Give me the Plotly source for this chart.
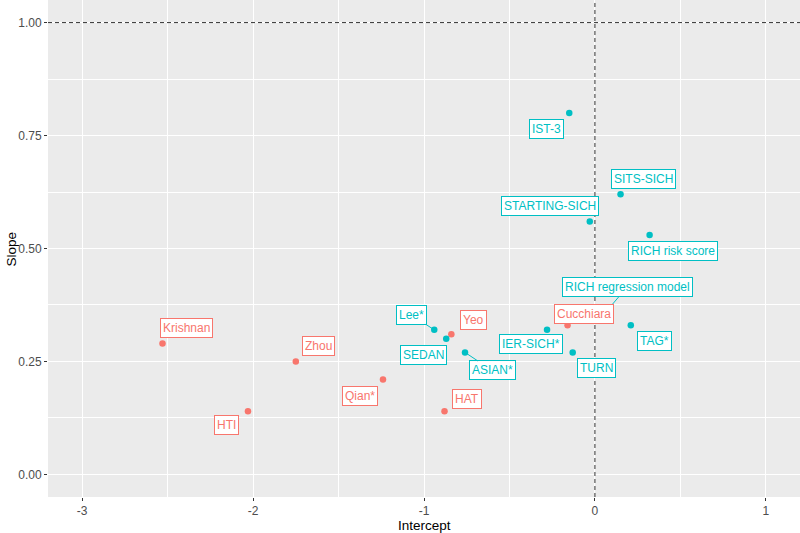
import plotly.graph_objects as go

# calibration of prediction models: intercept vs slope
studies = ["IST-3", "SITS-SICH", "STARTING-SICH", "RICH risk score", "RICH regression model",
           "TAG*", "Lee*", "SEDAN", "ASIAN*", "IER-SICH*", "TURN",
           "Krishnan", "Zhou", "Qian*", "HTI", "HAT", "Yeo", "Cucchiara"]
intercept = [-0.15, 0.15, -0.03, 0.32, 0.02,
             0.21, -0.94, -0.87, -0.76, -0.28, -0.13,
             -2.53, -1.75, -1.24, -2.03, -0.88, -0.84, -0.16]
slope = [0.80, 0.62, 0.56, 0.53, 0.34,
         0.33, 0.32, 0.30, 0.27, 0.32, 0.27,
         0.29, 0.25, 0.21, 0.14, 0.14, 0.31, 0.33]
group = ["b"] * 11 + ["a"] * 7

x_ticks = [-3, -2, -1, 0, 1]
y_ticks = [0.00, 0.25, 0.50, 0.75, 1.00]

colors = {"a": "#F8766D", "b": "#00BFC4"}

# label offsets in pixels (repel-like placement), segment shown for a few
label_offset = {
    "IST-3": (-23, 16), "SITS-SICH": (23, -15), "STARTING-SICH": (-40, -15),
    "RICH risk score": (23, 16), "RICH regression model": (29, -34),
    "TAG*": (24, 16), "Lee*": (-23, -15), "SEDAN": (-23, 16), "ASIAN*": (27, 18),
    "IER-SICH*": (-16, 14), "TURN": (24, 16), "Krishnan": (24, -15),
    "Zhou": (23, -15), "Qian*": (-23, 16), "HTI": (-21, 14), "HAT": (22, -12),
    "Yeo": (22, -14), "Cucchiara": (16, -11),
}
show_segment = {"Lee*", "ASIAN*", "RICH regression model"}

FONT = "Liberation Sans, Arial, sans-serif"

fig = go.Figure()

for g in ["a", "b"]:
    idx = [i for i, v in enumerate(group) if v == g]
    fig.add_trace(go.Scatter(
        x=[intercept[i] for i in idx], y=[slope[i] for i in idx],
        mode="markers", marker=dict(size=6.5, color=colors[g]),
        text=[studies[i] for i in idx], showlegend=False,
    ))

fig.add_hline(y=1, line_dash="4px,3px", line_color="#333333", line_width=1)
fig.add_vline(x=0, line_dash="4px,3px", line_color="#333333", line_width=1)

for name, x, y, g in zip(studies, intercept, slope, group):
    dx, dy = label_offset[name]
    c = colors[g]
    fig.add_annotation(
        x=x, y=y, text=name, showarrow=True, ax=dx, ay=dy,
        arrowhead=0, arrowwidth=1, standoff=2,
        arrowcolor=c if name in show_segment else "rgba(0,0,0,0)",
        font=dict(size=12, color=c, family=FONT),
        bgcolor="white", bordercolor=c, borderwidth=1, borderpad=2,
    )

# axis titles placed as paper annotations (standoff is ignored without automargin)
title_font = dict(size=13.5, color="black", family=FONT)
fig.add_annotation(text="Intercept", xref="paper", yref="paper", x=0.5, y=-0.058,
                   showarrow=False, font=title_font, yanchor="middle")
fig.add_annotation(text="Slope", xref="paper", yref="paper", x=-0.048, y=0.5,
                   showarrow=False, font=title_font, textangle=-90, xanchor="center")

grid = dict(
    showgrid=True, gridcolor="white", gridwidth=1.1, zeroline=False,
    ticks="outside", ticklen=3, tickcolor="#333333", tickwidth=1,
    tickfont=dict(size=12, color="#4D4D4D", family=FONT), showline=False,
    automargin=False,
)

fig.update_xaxes(
    range=[-3.2, 1.2], tickvals=x_ticks, ticktext=[str(v) for v in x_ticks],
    minor=dict(dtick=0.5, tick0=-2.5, showgrid=True, gridcolor="white", gridwidth=0.55, ticks=""),
    **grid,
)
fig.update_yaxes(
    range=[-0.05, 1.05], tickvals=y_ticks, ticktext=[f"{v:.2f}" for v in y_ticks],
    minor=dict(dtick=0.125, tick0=0.125, showgrid=True, gridcolor="white", gridwidth=0.55, ticks=""),
    **grid,
)

fig.update_layout(
    width=800, height=533,
    margin=dict(l=48, r=0, t=0, b=36, autoexpand=False),
    plot_bgcolor="#EBEBEB", paper_bgcolor="white",
    font=dict(family=FONT),
)

# drop the default page margin so the figure sits at the window corner
fig.write_html("out.html", config={"displayModeBar": False},
               post_script="document.body.style.margin='0';")
